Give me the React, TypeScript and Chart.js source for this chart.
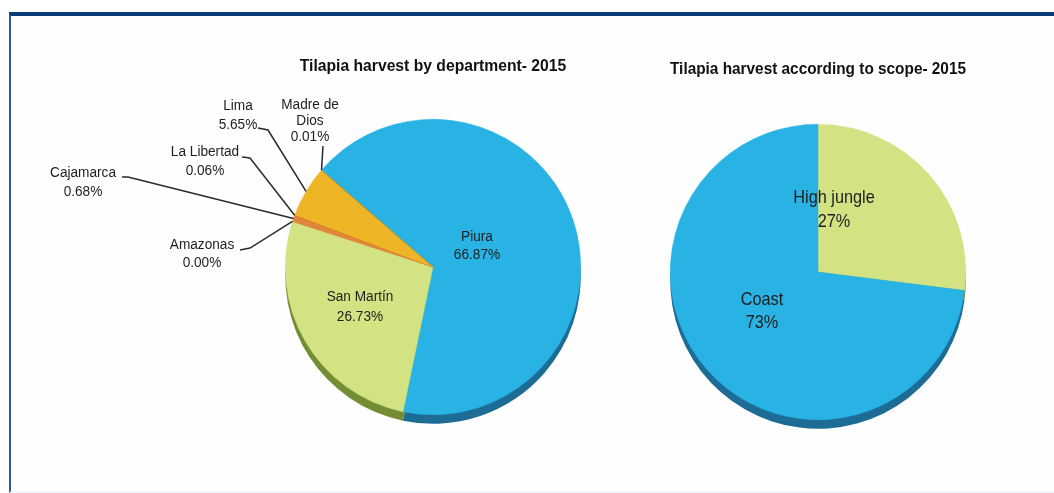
import React, { useEffect, useRef } from "react";
import { Chart, registerables } from "chart.js";

Chart.register(...registerables);

// ---------- data ----------
const deptTitle = "Tilapia harvest by department- 2015";
const deptLabels = ["Piura", "San Martín", "Amazonas", "Cajamarca", "La Libertad", "Lima", "Madre de Dios"];
const deptValues = [66.87, 26.73, 0.0, 0.68, 0.06, 5.65, 0.01];
const deptColors = ["#29b3e5", "#d3e283", "#c7c7c7", "#e0873a", "#d9652c", "#eeb526", "#b8902a"];
const deptRimColors = ["#1c6c96", "#738d34", "#8a8a8a", "#9a5a24", "#94421c", "#a47a15", "#7a5f18"];

const scopeTitle = "Tilapia harvest according to scope- 2015";
const scopeLabels = ["High jungle", "Coast"];
const scopeValues = [27, 73];
const scopeColors = ["#d3e283", "#29b3e5"];
const scopeRimColors = ["#738d34", "#1c6c96"];

const FONT = "'Liberation Sans', Arial, Helvetica, sans-serif";
const NARROW = 0.88; // horizontal squeeze to mimic a narrow sans face

// label layout (pixels relative to the pie centre)
type InsideLabel = { index: number; dx: number; dy: number; gap: number; size: number };
type OutsideLabel = {
  index: number;
  lines: string[];
  dx: number;
  dy: number;
  gap: number;
  leader: [number, number][];
};

const deptInside: InsideLabel[] = [
  { index: 0, dx: 44, dy: -30, gap: 18, size: 15.5 },
  { index: 1, dx: -73, dy: 30, gap: 20, size: 15.5 },
];
const deptOutside: OutsideLabel[] = [
  { index: 6, lines: ["Madre de", "Dios"], dx: -123, dy: -162, gap: 16, leader: [[-110, -121]] },
  { index: 5, lines: ["Lima"], dx: -195, dy: -161, gap: 19, leader: [[-175, -139], [-165, -137]] },
  { index: 4, lines: ["La Libertad"], dx: -228, dy: -115, gap: 19, leader: [[-191, -110], [-183, -109]] },
  { index: 3, lines: ["Cajamarca"], dx: -350, dy: -94, gap: 19, leader: [[-311, -90], [-305, -90]] },
  { index: 2, lines: ["Amazonas"], dx: -231, dy: -22, gap: 18, leader: [[-193, -17], [-183, -19]] },
];
const scopeInside: InsideLabel[] = [
  { index: 0, dx: 16, dy: -74, gap: 24, size: 18.5 },
  { index: 1, dx: -56, dy: 28, gap: 23, size: 18.5 },
];

function pct(v: number, digits: number) {
  return v.toFixed(digits) + "%";
}

function narrowText(ctx: CanvasRenderingContext2D, text: string, x: number, y: number) {
  ctx.save();
  ctx.translate(x, y);
  ctx.scale(NARROW, 1);
  ctx.fillText(text, 0, 0);
  ctx.restore();
}

function makeRimPlugin(rimColors: string[]) {
  return {
    id: "rim",
    beforeDatasetsDraw(chart: any) {
      const ctx = chart.ctx;
      const meta = chart.getDatasetMeta(0);
      ctx.save();
      meta.data.forEach((arc: any, i: number) => {
        const p = arc.getProps(["x", "y", "startAngle", "endAngle", "outerRadius"], true);
        if (p.endAngle - p.startAngle <= 0) return;
        ctx.beginPath();
        ctx.moveTo(p.x, p.y + 9);
        ctx.arc(p.x, p.y + 9, p.outerRadius, p.startAngle, p.endAngle);
        ctx.closePath();
        ctx.fillStyle = rimColors[i];
        ctx.fill();
      });
      ctx.restore();
    },
  };
}

function makeLabelPlugin(values: number[], labels: string[], inside: InsideLabel[], outside: OutsideLabel[], digits: number) {
  return {
    id: "sliceLabels",
    afterDatasetsDraw(chart: any) {
      const ctx = chart.ctx;
      const meta = chart.getDatasetMeta(0);
      const first = meta.data[0].getProps(["x", "y", "outerRadius"], true);
      const cx = first.x;
      const cy = first.y;
      ctx.save();
      ctx.textAlign = "center";
      ctx.textBaseline = "middle";
      ctx.fillStyle = "#1e1e1e";
      inside.forEach((l) => {
        ctx.font = `${l.size}px ${FONT}`;
        narrowText(ctx, labels[l.index], cx + l.dx, cy + l.dy);
        narrowText(ctx, pct(values[l.index], digits), cx + l.dx, cy + l.dy + l.gap);
      });
      ctx.font = `15.5px ${FONT}`;
      outside.forEach((l) => {
        const lines = [...l.lines, pct(values[l.index], digits)];
        lines.forEach((t, k) => narrowText(ctx, t, cx + l.dx, cy + l.dy + k * l.gap));
        const arc = meta.data[l.index].getProps(["x", "y", "startAngle", "endAngle", "outerRadius"], true);
        const mid = (arc.startAngle + arc.endAngle) / 2;
        const ax = arc.x + Math.cos(mid) * arc.outerRadius;
        const ay = arc.y + Math.sin(mid) * arc.outerRadius;
        ctx.beginPath();
        ctx.strokeStyle = "#2a2a2a";
        ctx.lineWidth = 1.5;
        l.leader.forEach(([px, py], k) => {
          if (k === 0) ctx.moveTo(cx + px, cy + py);
          else ctx.lineTo(cx + px, cy + py);
        });
        ctx.lineTo(ax, ay);
        ctx.stroke();
      });
      ctx.restore();
    },
  };
}

type PieProps = {
  left: number;
  width: number;
  title: string;
  labels: string[];
  values: number[];
  colors: string[];
  rimColors: string[];
  rotation: number;
  padding: { left: number; right: number; top: number; bottom: number };
  titleGap: number;
  inside: InsideLabel[];
  outside: OutsideLabel[];
  digits: number;
};

function PieCanvas(props: PieProps) {
  const ref = useRef<HTMLCanvasElement | null>(null);
  useEffect(() => {
    if (!ref.current) return;
    const chart = new Chart(ref.current, {
      type: "pie",
      data: {
        labels: props.labels,
        datasets: [
          {
            data: props.values,
            backgroundColor: props.colors,
            borderColor: props.colors,
            borderWidth: 0.5,
            hoverOffset: 0,
            offset: 0,
            clip: false as any,
          },
        ],
      },
      options: {
        animation: false,
        responsive: false,
        devicePixelRatio: 1,
        rotation: props.rotation,
        layout: { padding: props.padding },
        events: [],
        plugins: {
          legend: { display: false },
          tooltip: { enabled: false },
          title: {
            display: true,
            text: props.title,
            color: "#111111",
            font: { family: FONT, size: 15.7, weight: "bold", lineHeight: 1.2 },
            padding: { top: 0, bottom: props.titleGap },
          },
        },
      },
      plugins: [makeRimPlugin(props.rimColors), makeLabelPlugin(props.values, props.labels, props.inside, props.outside, props.digits)],
    });
    return () => chart.destroy();
  }, []);
  return (
    <canvas
      ref={ref}
      width={props.width}
      height={493}
      style={{ position: "absolute", left: props.left, top: 0, width: props.width, height: 493 }}
    />
  );
}

export default function App() {
  return (
    <div style={{ position: "absolute", left: 0, top: 0, width: 1054, height: 493, background: "#ffffff", overflow: "hidden" }}>
      <div
        style={{
          position: "absolute",
          left: 9,
          top: 12,
          width: 1045,
          height: 481,
          boxSizing: "border-box",
          borderTop: "4px solid #0b3a78",
          borderLeft: "2px solid #2b5c99",
          borderBottom: "2px solid #eef5fb",
          background: "#fefefe",
        }}
      />
      <PieCanvas
        left={0}
        width={640}
        title={deptTitle}
        labels={deptLabels}
        values={deptValues}
        colors={deptColors}
        rimColors={deptRimColors}
        rotation={-49}
        padding={{ left: 285, right: 59, top: 57, bottom: 78 }}
        titleGap={43.2}
        inside={deptInside}
        outside={deptOutside}
        digits={2}
      />
      <PieCanvas
        left={640}
        width={414}
        title={scopeTitle}
        labels={scopeLabels}
        values={scopeValues}
        colors={scopeColors}
        rimColors={scopeRimColors}
        rotation={0}
        padding={{ left: 30, right: 88, top: 60, bottom: 73 }}
        titleGap={45.2}
        inside={scopeInside}
        outside={[]}
        digits={0}
      />
    </div>
  );
}
